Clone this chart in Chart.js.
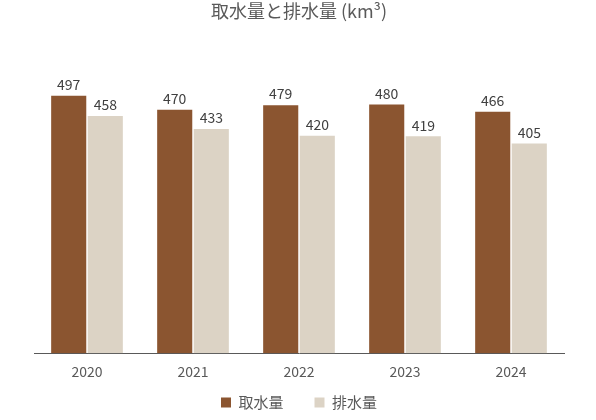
<!DOCTYPE html>
<html><head><meta charset="utf-8">
<script src="https://cdn.jsdelivr.net/npm/chart.js@4.4.1/dist/chart.umd.min.js"></script>
<style>html,body{margin:0;padding:0;background:#fff;}#wrap{width:596px;height:420px;}</style>
</head><body>
<div id="wrap"><canvas id="c" width="596" height="420"></canvas></div>
<script>
const categories = ["2020", "2021", "2022", "2023", "2024"];
const withdrawal = [497, 470, 479, 480, 466];
const discharge = [458, 433, 420, 419, 405];
const seriesNames = ["取水量", "排水量"];
const titleText = "取水量と排水量 (km³)";

const FONT = "'Noto Sans CJK JP', 'Noto Sans', sans-serif";
const LEGEND_TRIM = 26;

const labelPlugin = {
  id: 'barLabels',
  afterDatasetsDraw(chart) {
    const ctx = chart.ctx;
    ctx.save();
    ctx.font = "14px " + FONT;
    ctx.fillStyle = "#404040";
    ctx.textAlign = "center";
    ctx.textBaseline = "bottom";
    chart.data.datasets.forEach((ds, i) => {
      chart.getDatasetMeta(i).data.forEach((bar, j) => {
        ctx.fillText(String(ds.data[j]), bar.x, bar.y - 4);
      });
    });
    ctx.restore();
  }
};

// keep the legend's wide horizontal spacing but reserve less vertical room above it
const legendTrim = {
  id: 'legendTrim',
  afterInit(chart) {
    const lg = chart.legend;
    if (!lg || lg._trimmed) return;
    lg._trimmed = true;
    const fit = lg.fit;
    lg.fit = function () { fit.call(this); this.height -= LEGEND_TRIM; };
    const draw = lg.draw;
    lg.draw = function () {
      const t = this.top;
      this.top = t - LEGEND_TRIM;
      draw.call(this);
      this.top = t;
    };
  }
};

new Chart(document.getElementById('c'), {
  type: 'bar',
  data: {
    labels: categories,
    datasets: [
      { label: seriesNames[0], data: withdrawal, backgroundColor: '#8B5530', borderWidth: 0 },
      { label: seriesNames[1], data: discharge, backgroundColor: '#DCD3C5', borderWidth: 0 }
    ]
  },
  options: {
    responsive: false,
    animation: false,
    devicePixelRatio: 1,
    layout: { padding: { left: 34, right: 32, top: 0, bottom: 0 } },
    datasets: { bar: { categoryPercentage: 0.69, barPercentage: 0.96 } },
    scales: {
      x: {
        grid: { display: false, drawTicks: false },
        border: { display: true, color: '#595959', width: 1 },
        ticks: { color: '#595959', font: { size: 14, family: FONT }, padding: 10 }
      },
      y: { display: false, min: 0, max: 621 }
    },
    plugins: {
      title: {
        display: true, text: titleText, color: '#595959',
        font: { size: 18, weight: 'normal', family: FONT },
        padding: { top: 0, bottom: 10 }
      },
      legend: {
        position: 'bottom',
        labels: {
          color: '#595959', font: { size: 15, family: FONT },
          boxWidth: 10, boxHeight: 10, padding: 31
        }
      },
      tooltip: { enabled: false }
    }
  },
  plugins: [labelPlugin, legendTrim]
});
</script>
</body></html>
